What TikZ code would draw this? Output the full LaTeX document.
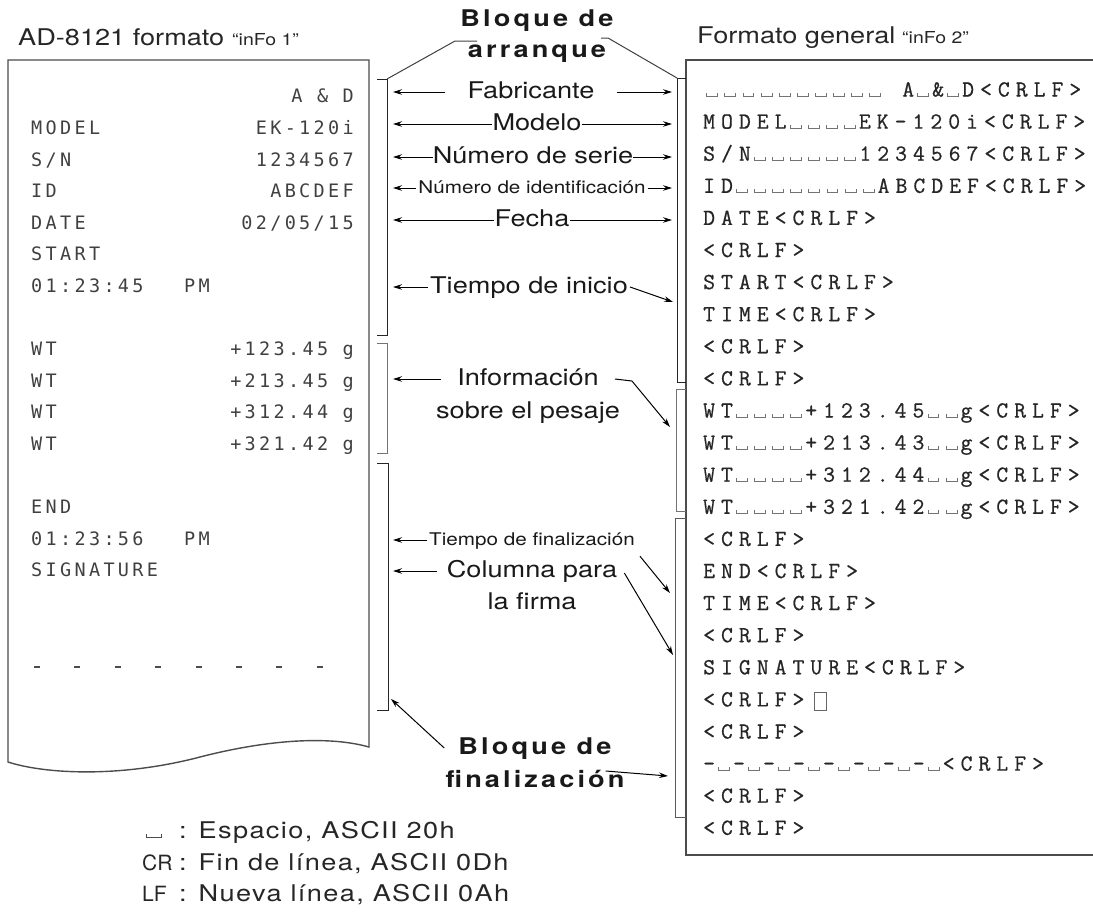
\documentclass[tikz,border=0pt]{standalone}
\usepackage{fontspec}
\setmainfont[FakeStretch=1.18]{TeX Gyre Heros}
\newfontfamily\prnfont[LetterSpace=18]{DejaVu Sans Mono}
\newfontfamily\crlffont[LetterSpace=26.2,FakeBold=0.7]{Latin Modern Mono}
\newfontfamily\blqfont[FakeStretch=1.18,LetterSpace=13.5]{TeX Gyre Heros}
\newfontfamily\lgdfont[FakeStretch=1.18,LetterSpace=6]{TeX Gyre Heros}
\newfontfamily\keyfont{TeX Gyre Heros}
\usetikzlibrary{positioning,arrows.meta,calc}

% visible space of the output format, one cell wide
\newcommand\vspc{\hbox to 18.1pt{\hss\color{black!55}\vrule width .9pt height 3.5pt\vrule width 10pt height .9pt\vrule width .9pt height 3.5pt\hss}}
\newcommand\blankcell{\hbox to 18.1pt{}}
\newcommand\keyspc{\hbox{\color{black!70}\vrule width .9pt height 4pt\vrule width 14pt height .9pt\vrule width .9pt height 4pt}}

\tikzset{
  paper/.style={draw=black!70, line width=1.4pt},
  brk/.style={line width=1pt, black!85},
  lead/.style={line width=1pt, black!75},
  arr/.style={-{Stealth[length=9pt,width=5.5pt]}, line width=1pt},
  lbl/.style={font=\fontsize{23}{27}\selectfont, text=black!90, text height=17pt, text depth=4pt, inner sep=0pt},
  lblsm/.style={font=\fontsize{17.5}{21}\selectfont, text=black!90, text height=13pt, text depth=3pt, inner sep=0pt},
  blq/.style={font=\blqfont\bfseries\fontsize{23}{27}\selectfont, text=black!90, text height=17pt, text depth=4pt, inner sep=0pt},
  ttl/.style={font=\fontsize{23}{27}\selectfont, text=black!85, inner sep=0pt, anchor=base west},
  prnL/.style={font=\prnfont\fontsize{18.5}{22}\selectfont, text=black!75, inner sep=0pt, anchor=base west},
  prnR/.style={prnL, anchor=base east},
  crlf/.style={font=\crlffont\fontsize{23}{26}\selectfont, text=black!85, inner sep=0pt, anchor=base west},
  lgd/.style={font=\lgdfont\fontsize{23}{27}\selectfont, text=black!85, inner sep=0pt, anchor=base west},
  lgdkey/.style={lgd, font=\keyfont\fontsize{21}{27}\selectfont}
}

\begin{document}
\begin{tikzpicture}[x=1pt,y=-1pt,on grid]
\useasboundingbox (0,0) rectangle (1093,911);

% titles
\node[ttl] (tl) at (18,45) {AD-8121 formato};
\node[ttl, font=\fontsize{16.5}{18}\selectfont] (tlq) at (232,45) {“inFo 1”};
\node[ttl] (tr) at (697,43) {Formato general};
\node[ttl, font=\fontsize{16.5}{18}\selectfont] (trq) at (902,43) {“inFo 2”};

% printed paper
\draw[paper] (369,60) -- (8,60) -- (8,762) .. controls (45,774) and (120,778) .. (200,757)
   .. controls (270,739) and (330,736) .. (369,747) -- cycle;
\node[prnR] (p0) at (354,102.8) {A \& D};
\node[prnL] (m1) at (31,134.4) {MODEL};
\node[prnR] (p1) at (354,134.4) {EK-120i};
\node[prnL] (m2) at (31,166.0) {S/N};
\node[prnR] (p2) at (354,166.0) {1234567};
\node[prnL] (m3) at (31,197.6) {ID};
\node[prnR] (p3) at (354,197.6) {ABCDEF};
\node[prnL] (m4) at (31,229.2) {DATE};
\node[prnR] (p4) at (354,229.2) {02/05/15};
\node[prnL] (m5) at (31,260.8) {START};
\node[prnL] (m6) at (31,292.4) {01:23:45};
\node[prnL] (p6) at (184,292.4) {PM};
\node[prnL] (m8) at (31,355.6) {WT};
\node[prnR] (p8) at (354,355.6) {+123.45 g};
\node[prnL] (m9) at (31,387.2) {WT};
\node[prnR] (p9) at (354,387.2) {+213.45 g};
\node[prnL] (m10) at (31,418.8) {WT};
\node[prnR] (p10) at (354,418.8) {+312.44 g};
\node[prnL] (m11) at (31,450.4) {WT};
\node[prnR] (p11) at (354,450.4) {+321.42 g};
\node[prnL] (m13) at (31,513.6) {END};
\node[prnL] (m14) at (31,545.2) {01:23:56};
\node[prnL] (p14) at (184,545.2) {PM};
\node[prnL] (m15) at (31,576.8) {SIGNATURE};
\draw[black!70, line width=1.6pt, dash pattern=on 6pt off 34.4pt] (34,667) -- (330,667);

% general format
\draw[paper] (1093,60) -- (686,60) -- (686,855) -- (1093,855);
\node[crlf] (r0) at (703,96.5) {\vspc\vspc\vspc\vspc\vspc\vspc\vspc\vspc\vspc\vspc\blankcell A\vspc\&\vspc D<CRLF>};
\node[crlf] (r1) at (703,128.6) {MODEL\vspc\vspc\vspc\vspc EK-120i<CRLF>};
\node[crlf] (r2) at (703,160.7) {S/N\vspc\vspc\vspc\vspc\vspc\vspc 1234567<CRLF>};
\node[crlf] (r3) at (703,192.8) {ID\vspc\vspc\vspc\vspc\vspc\vspc\vspc\vspc ABCDEF<CRLF>};
\node[crlf] (r4) at (703,224.9) {DATE<CRLF>};
\node[crlf] (r5) at (703,257.0) {<CRLF>};
\node[crlf] (r6) at (703,289.1) {START<CRLF>};
\node[crlf] (r7) at (703,321.2) {TIME<CRLF>};
\node[crlf] (r8) at (703,353.3) {<CRLF>};
\node[crlf] (r9) at (703,385.4) {<CRLF>};
\node[crlf] (r10) at (703,417.5) {WT\vspc\vspc\vspc\vspc +123.45\vspc\vspc g<CRLF>};
\node[crlf] (r11) at (703,449.6) {WT\vspc\vspc\vspc\vspc +213.43\vspc\vspc g<CRLF>};
\node[crlf] (r12) at (703,481.7) {WT\vspc\vspc\vspc\vspc +312.44\vspc\vspc g<CRLF>};
\node[crlf] (r13) at (703,513.8) {WT\vspc\vspc\vspc\vspc +321.42\vspc\vspc g<CRLF>};
\node[crlf] (r14) at (703,545.9) {<CRLF>};
\node[crlf] (r15) at (703,578.0) {END<CRLF>};
\node[crlf] (r16) at (703,610.1) {TIME<CRLF>};
\node[crlf] (r17) at (703,642.2) {<CRLF>};
\node[crlf] (r18) at (703,674.3) {SIGNATURE<CRLF>};
\node[crlf] (r19) at (703,706.4) {<CRLF>};
\draw[black!60, line width=.8pt] (814,692) rectangle (826,710);
\node[crlf] (r20) at (703,738.5) {<CRLF>};
\node[crlf] (r21) at (703,770.6) {-\vspc-\vspc-\vspc-\vspc-\vspc-\vspc-\vspc-\vspc<CRLF>};
\node[crlf] (r22) at (703,802.7) {<CRLF>};
\node[crlf] (r23) at (703,834.8) {<CRLF>};

% brackets
\coordinate (l1top) at (387,79);
\coordinate (r1top) at (677,78);
\draw[brk] (377,79) -- (l1top) -- (387,335) -- (377,335);
\draw[brk, black!55] (377,343) -- (387,343) -- (387,453) -- (377,453);
\draw[brk] (377,463) -- (388,463) -- (388,710) -- (377,710);
\draw[brk] (686,78) -- (r1top) -- (677,382) -- (686,382);
\draw[brk, black!55] (686,389) -- (676,389) -- (676,511) -- (686,511);
\draw[brk, black!65] (686,518) -- (675,518) -- (675,817) -- (686,817);

% labels
\coordinate (lb) at (393,0);
\coordinate (rb) at (672,0);
\node[blq] (ba1) at (537,20) {Bloque de};
\node[blq, below=31pt of ba1] (ba2) {arranque};
\node[lbl, inner xsep=22pt] (fab) at (531,92) {Fabricante};
\node[lbl] (mod) at (537,124) {Modelo};
\node[lbl] (ser) at (533,157) {Número de serie};
\node[lblsm, inner xsep=2pt] (idn) at (532,188) {Número de identificación};
\node[lbl] (fec) at (532,220) {Fecha};
\node[lbl, inner xsep=2pt] (tin) at (529,287) {Tiempo de inicio};
\node[lbl, inner xsep=16pt] (inf1) at (528,379) {Información};
\node[lbl, below=33pt of inf1] (inf2) {sobre el pesaje};
\node[lblsm, inner xsep=2pt] (tfin) at (532,540) {Tiempo de finalización};
\node[lbl, inner xsep=10pt] (col1) at (532,571) {Columna para};
\node[lbl, below=32pt of col1] (col2) {la firma};
\node[blq, inner xsep=14pt] (bf1) at (535,748) {Bloque de};
\node[blq, below=33pt of bf1] (bf2) {finalización};

\draw[lead] (l1top) -- (455,41) -- (477,41);
\draw[lead] (601,38) -- (608,38) -- (r1top);

\draw[arr] (fab.west) -- (fab.west -| lb);
\draw[arr] (fab.east) -- (fab.east -| rb);
\draw[arr] (mod.west) -- (mod.west -| lb);
\draw[arr] (mod.east) -- (mod.east -| rb);
\draw[arr] (ser.west) -- (ser.west -| lb);
\draw[arr] (ser.east) -- (ser.east -| rb);
\draw[arr] (idn.west) -- (idn.west -| lb);
\draw[arr] (idn.east) -- (idn.east -| rb);
\draw[arr] (fec.west) -- (fec.west -| lb);
\draw[arr] (fec.east) -- (fec.east -| rb);
\draw[arr] (tin.west) -- (tin.west -| lb);
\coordinate (tinR) at (673,302);
\draw[arr] (tin.east) -- (tinR);
\draw[arr] (inf1.west) -- (inf1.west -| lb);
\coordinate (infR) at (670,427);
\draw[arr] (inf1.east) -- ++(17,2) -- (infR);
\draw[arr] (tfin.west) -- (tfin.west -| lb);
\coordinate (tfinR) at (670,593);
\draw[arr] ($(tfin.south east)+(3,8)$) -- (tfinR);
\draw[arr] (col1.west) -- (col1.west -| lb);
\coordinate (colR) at (673,655);
\draw[arr] ($(col1.east)+(-3,2)$) -- (colR);
\coordinate (bfL) at (391,699);
\draw[arr] (bf1.west) -- (bfL);
\coordinate (bfR) at (668,776);
\draw[arr] ($(bf2.east)+(-19,-10)$) -- (bfR);

% legend
\node[lgdkey] (kspc) at (146,838) {\keyspc};
\node[lgd] (tspc) at (179,838) {: Espacio, ASCII 20h};
\node[lgdkey] (kcr) at (142,870) {CR};
\node[lgd] (tcr) at (179,870) {: Fin de línea, ASCII 0Dh};
\node[lgdkey] (klf) at (142,901) {LF};
\node[lgd] (tlf) at (179,901) {: Nueva línea, ASCII 0Ah};
\end{tikzpicture}
\end{document}
